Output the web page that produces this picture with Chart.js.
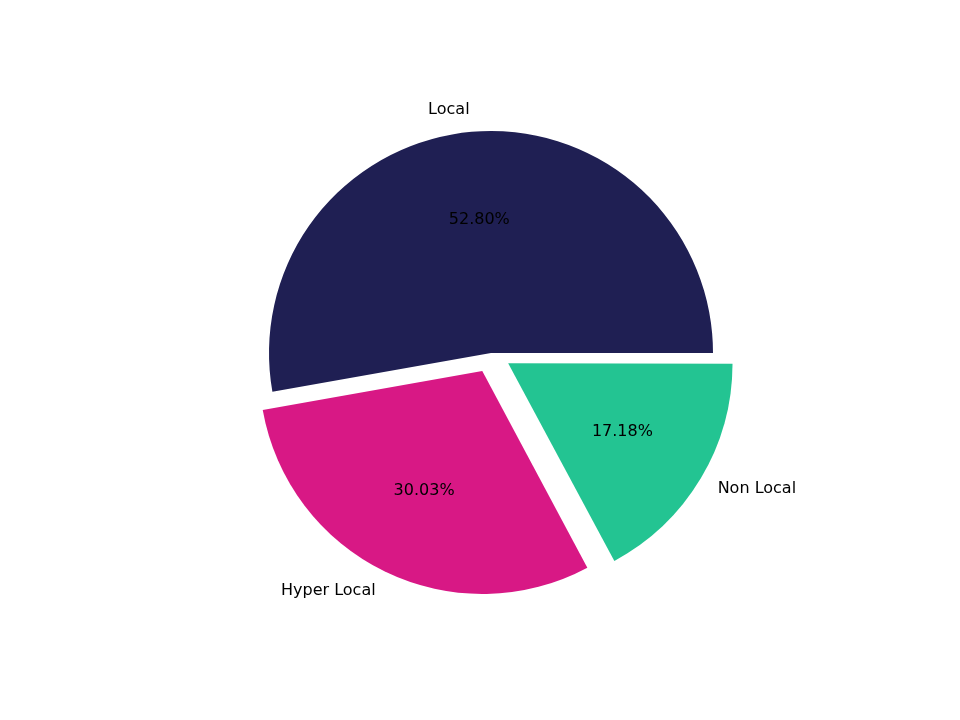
<!DOCTYPE html>
<html><head><meta charset="utf-8">
<script src="https://cdn.jsdelivr.net/npm/chart.js@4"></script>
<style>html,body{margin:0;background:#fff}#w{width:960px;height:720px}</style>
</head><body><div id="w"><canvas id="c"></canvas></div>
<script>
const labels = ["Non Local", "Hyper Local", "Local"];
const values = [17.18, 30.03, 52.80];
const colors = ["#23c492", "#d81885", "#1f1f53"];
const offsets = [80, 80, 0];

const labelPlugin = {
  id: 'pieLabels',
  afterDraw(chart) {
    const ctx = chart.ctx;
    const meta = chart.getDatasetMeta(0);
    ctx.save();
    ctx.font = '16px "DejaVu Sans"';
    ctx.fillStyle = '#000';
    ctx.textBaseline = 'middle';
    meta.data.forEach((el, i) => {
      const p = el.getProps(['x','y','startAngle','endAngle','outerRadius'], true);
      const mid = (p.startAngle + p.endAngle) / 2;
      const off = (el.options.offset || 0) / 4;
      const cx = p.x + off * Math.cos(mid), cy = p.y + off * Math.sin(mid);
      const r = p.outerRadius;
      const c = Math.cos(mid), s = Math.sin(mid);
      ctx.textAlign = c >= 0 ? 'left' : 'right';
      ctx.fillText(labels[i], cx + 1.1 * r * c, cy + 1.1 * r * s);
      ctx.textAlign = 'center';
      ctx.fillText(values[i].toFixed(2) + '%', cx + 0.6 * r * c, cy + 0.6 * r * s);
    });
    ctx.restore();
  }
};

new Chart(document.getElementById('c'), {
  type: 'pie',
  data: { labels, datasets: [{ data: values, backgroundColor: colors, borderWidth: 0, offset: offsets }] },
  options: {
    responsive: true, maintainAspectRatio: false, animation: false,
    rotation: 90,
    layout: { padding: { left: 229, right: 207, top: 91, bottom: 105 } },
    plugins: { legend: { display: false }, tooltip: { enabled: false } }
  },
  plugins: [labelPlugin]
});
</script></body></html>
